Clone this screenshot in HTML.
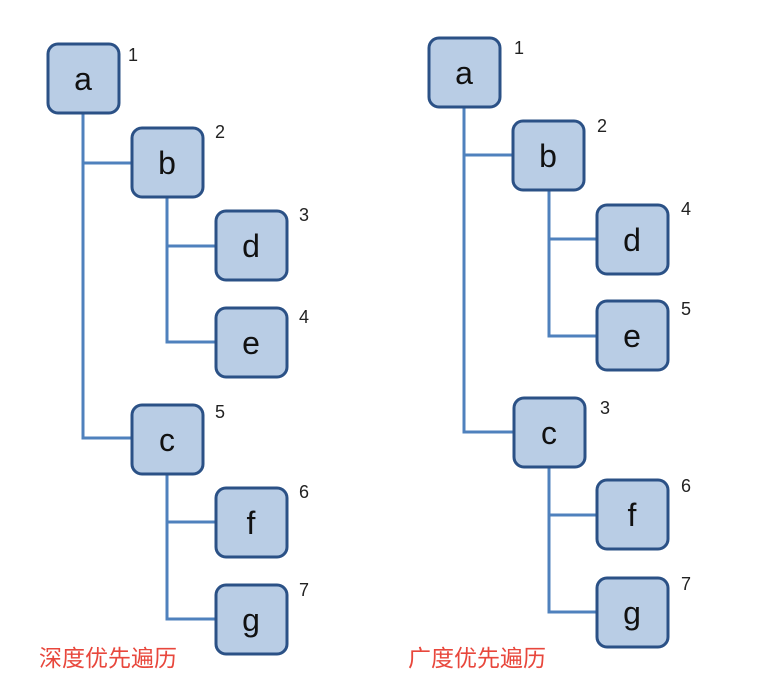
<!DOCTYPE html>
<html><head><meta charset="utf-8"><style>
html,body{margin:0;padding:0;background:#fff;width:764px;height:700px;overflow:hidden}
svg text{font-family:"Liberation Sans","Noto Sans CJK SC",sans-serif}
</style></head><body>
<svg width="764" height="700" viewBox="0 0 764 700" xmlns="http://www.w3.org/2000/svg">
<g stroke="#4f81bd" stroke-width="3" fill="none">
<path d="M83 113 V438 H131"/>
<path d="M83 163 H131"/>
<path d="M167 197 V342 H215"/>
<path d="M167 246 H215"/>
<path d="M167 475 V619 H215"/>
<path d="M167 522 H215"/>
<path d="M464 108 V432 H513"/>
<path d="M464 155 H513"/>
<path d="M549 190 V336 H596"/>
<path d="M549 239 H596"/>
<path d="M549 466 V612 H596"/>
<path d="M549 515 H596"/>
</g>
<g fill="#b9cde5" stroke="#2b5186" stroke-width="3">
<rect x="48" y="44" width="71" height="69" rx="10"/>
<rect x="132" y="128" width="71" height="69" rx="10"/>
<rect x="216" y="211" width="71" height="69" rx="10"/>
<rect x="216" y="308" width="71" height="69" rx="10"/>
<rect x="132" y="405" width="71" height="69" rx="10"/>
<rect x="216" y="488" width="71" height="69" rx="10"/>
<rect x="216" y="585" width="71" height="69" rx="10"/>
<rect x="429" y="38" width="71" height="69" rx="10"/>
<rect x="513" y="121" width="71" height="69" rx="10"/>
<rect x="597" y="205" width="71" height="69" rx="10"/>
<rect x="597" y="301" width="71" height="69" rx="10"/>
<rect x="514" y="398" width="71" height="69" rx="10"/>
<rect x="597" y="480" width="71" height="69" rx="10"/>
<rect x="597" y="578" width="71" height="69" rx="10"/>
</g>
<g font-size="32" fill="#111" text-anchor="middle">
<text x="83" y="90">a</text>
<text x="167" y="174">b</text>
<text x="251" y="257">d</text>
<text x="251" y="354">e</text>
<text x="167" y="451">c</text>
<text x="251" y="534">f</text>
<text x="251" y="631">g</text>
<text x="464" y="84">a</text>
<text x="548" y="167">b</text>
<text x="632" y="251">d</text>
<text x="632" y="347">e</text>
<text x="549" y="444">c</text>
<text x="632" y="526">f</text>
<text x="632" y="624">g</text>
</g>
<g font-size="18" fill="#222">
<text x="128" y="61">1</text>
<text x="215" y="138">2</text>
<text x="299" y="221">3</text>
<text x="299" y="323">4</text>
<text x="215" y="418">5</text>
<text x="299" y="498">6</text>
<text x="299" y="596">7</text>
<text x="514" y="54">1</text>
<text x="597" y="132">2</text>
<text x="681" y="215">4</text>
<text x="681" y="315">5</text>
<text x="600" y="414">3</text>
<text x="681" y="492">6</text>
<text x="681" y="590">7</text>
</g>
<g font-size="23" fill="#e8473c">
<text x="39" y="666">深度优先遍历</text>
<text x="408" y="666">广度优先遍历</text>
</g>
</svg>
</body></html>
